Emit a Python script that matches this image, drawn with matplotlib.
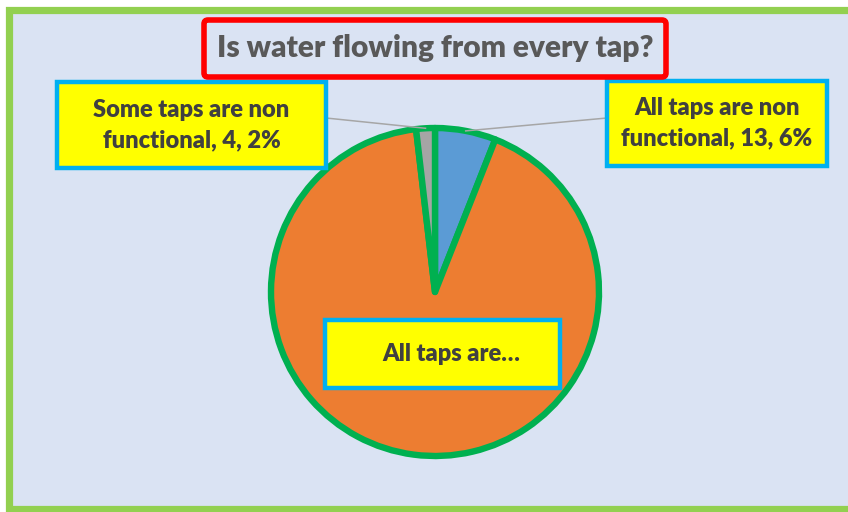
import numpy as np
import matplotlib.pyplot as plt
from matplotlib.patches import Rectangle, FancyBboxPatch

plt.rcParams['font.family'] = ['Lato', 'DejaVu Sans']

# data
categories = ['All taps are non functional', 'All taps are functional',
              'Some taps are non functional']
counts = [13, 200, 4]
colors = ['#5B9BD5', '#ED7D31', '#A5A5A5']
title = 'Is water flowing from every tap?'

W, H = 848, 512


def Y(y):
    # image pixel row -> data y
    return H - y


fig = plt.figure(figsize=(W / 100, H / 100), dpi=100)
ax = fig.add_axes([0, 0, 1, 1])

# chart area with green frame
ax.add_patch(Rectangle((9, Y(508.5)), 850, 499, facecolor='#DAE3F3',
                       edgecolor='#92D050', linewidth=5.2, zorder=0))

# pie
cx, cy, r = 435, 292, 164
total = sum(counts)
ax.pie(counts, colors=colors, startangle=90, counterclock=False,
       center=(cx, Y(cy)), radius=r, frame=True,
       wedgeprops=dict(edgecolor='#00B050', linewidth=4.6,
                       joinstyle='round'))
ax.set_xlim(0, W)
ax.set_ylim(0, H)
ax.set_aspect('equal')
ax.axis('off')

# mid angles of slices
starts = 90 - 360 * np.cumsum([0] + counts[:-1]) / total
mids = starts - 180 * np.array(counts) / total
pct = [round(100 * c / total) for c in counts]


def label_box(x0, y0, x1, y1, text, tx=None):
    ax.add_patch(Rectangle((x0, Y(y1)), x1 - x0, y1 - y0, facecolor='#FFFF00',
                           edgecolor='#00B0F0', linewidth=3.2, zorder=5))
    if tx is None:
        tx = (x0 + x1) / 2
    ax.text(tx, Y((y0 + y1) / 2), text, ha='center', va='center',
            fontsize=17, fontweight='heavy', color='#404040',
            linespacing=1.45, zorder=6)


def leader(x, y, i):
    a = np.deg2rad(mids[i])
    ex, ey = cx + r * np.cos(a), cy - r * np.sin(a)
    ax.plot([x, ex], [Y(y), Y(ey)], color='#A6A6A6', lw=1.1, zorder=4)


leader(326, 118, 2)
leader(607, 118, 0)

label_box(57, 82, 326, 168,
          f'Some taps are non\nfunctional, {counts[2]}, {pct[2]}%')
label_box(607, 81, 827, 166,
          f'All taps are non\nfunctional, {counts[0]}, {pct[0]}%')
label_box(325, 320, 560, 388, categories[1][:12] + '\u2026', tx=451)

# title
ax.add_patch(FancyBboxPatch((204, Y(77)), 462, 57,
                            boxstyle='round,pad=0,rounding_size=4',
                            facecolor='#DAE3F3', edgecolor='#FF0000',
                            linewidth=4, zorder=5))
ax.text(435, Y(48), title, ha='center', va='center', fontsize=21.5,
        fontweight='heavy', color='#595959', zorder=6)

fig.savefig('out.png', dpi=100)
